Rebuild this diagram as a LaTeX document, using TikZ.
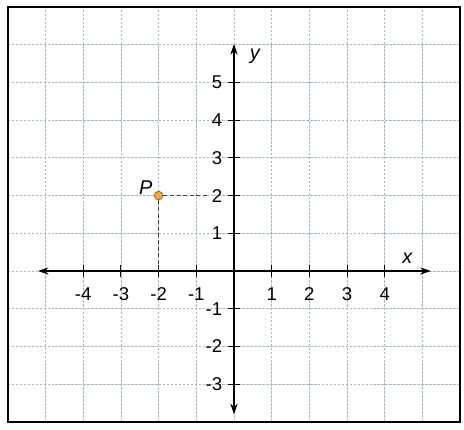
\documentclass[tikz,border=0pt]{standalone}
\usepackage{fontspec}
\setmainfont{Liberation Sans}
\usetikzlibrary{arrows.meta}
\definecolor{gridc}{RGB}{160,185,200}
\definecolor{pfill}{RGB}{240,170,60}
\definecolor{pdraw}{RGB}{170,100,30}
\tikzset{
  gridline/.style={draw=gridc, line width=0.6pt, dash pattern=on 2pt off 1pt},
  axisline/.style={draw=black, line width=0.9pt, -{Stealth[length=8pt,width=5.5pt]}},
  tickmark/.style={draw=black, line width=0.8pt},
  ticklabel/.style={font=\fontsize{14}{16}\selectfont, inner sep=1pt},
  axislabel/.style={font=\fontsize{15}{18}\selectfont\itshape, inner sep=1pt},
  helper/.style={draw=black!75, line width=0.7pt, dash pattern=on 3pt off 2pt},
  pointdot/.style={circle, fill=pfill, draw=pdraw, line width=0.6pt, minimum size=6.5pt, inner sep=0pt},
  frameline/.style={draw=black, line width=1.4pt}
}
\begin{document}
\begin{tikzpicture}
\useasboundingbox (-6.207,-4.218) rectangle (6.101,7.188);
% grid
\foreach \x in {-5,...,5} \draw[gridline] (\x,-4) -- (\x,7);
\foreach \y in {-3,...,6} \draw[gridline] (-6,\y) -- (6,\y);
% frame
\draw[frameline] (-6,-4) rectangle (6,7);
% axes
\coordinate (xl) at (-5.2,0);
\coordinate (xr) at (5.22,0);
\coordinate (yb) at (0,-3.8);
\coordinate (yt) at (0,6.02);
\draw[axisline] (0,0) -- (xr);
\draw[axisline] (0,0) -- (xl);
\draw[axisline] (0,0) -- (yt);
\draw[axisline] (0,0) -- (yb);
% ticks and labels
\foreach \x in {-4,-3,-2,-1,1,2,3,4} {
  \draw[tickmark] (\x,-0.15) -- (\x,0.15);
  \node[ticklabel, anchor=north] at (\x,-0.4) {\ifnum\x<0 -\the\numexpr-\x\relax\else\x\fi};
}
\foreach \y in {-3,-2,-1,1,2,3,4,5} {
  \draw[tickmark] (-0.15,\y) -- (0.15,\y);
  \node[ticklabel, anchor=east] at (-0.27,\y) {\ifnum\y<0 -\the\numexpr-\y\relax\else\y\fi};
}
\node[axislabel] (xlab) at (4.6,0.35) {x};
\node[axislabel] (ylab) at (0.55,5.7) {y};
% point P
\node[pointdot] (P) at (-2,2) {};
\coordinate (Py) at (-0.65,2);
\coordinate (Px) at (-2,0);
\draw[helper] (P) -- (Py);
\draw[helper] (P) -- (Px);
\node[axislabel, anchor=south east] (Plab) at (-2.12,1.98) {P};
\end{tikzpicture}
\end{document}
